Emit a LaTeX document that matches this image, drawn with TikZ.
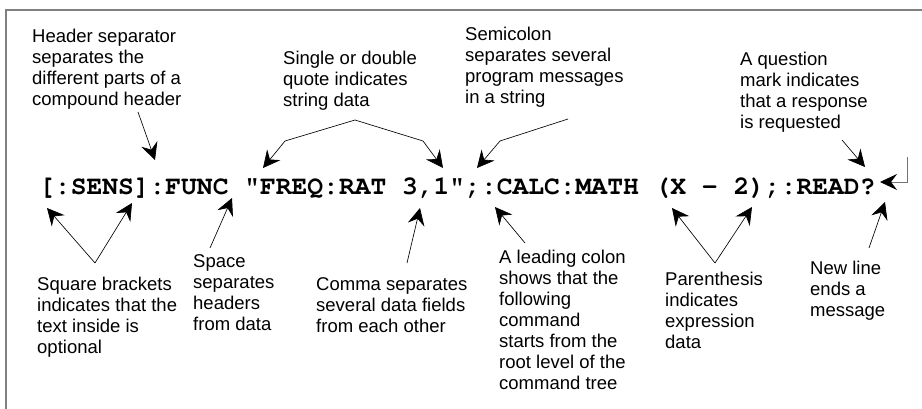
\documentclass[tikz,border=0pt]{standalone}
\usepackage[T1]{fontenc}
\usepackage{fontspec}
\setmainfont{Liberation Sans}
\usepackage{tikz}
\usetikzlibrary{arrows.meta}
\newcommand{\scpi}[1]{{\fontencoding{T1}\fontfamily{pcr}\fontseries{b}\fontsize{26.3}{30}\selectfont #1}}

\begin{document}
\begin{tikzpicture}[x=1pt, y=-1pt,
  note/.style={anchor=north west, inner sep=0pt, align=left,
    font=\fontsize{18.5}{21}\selectfont},
  pointer/.style={-{Stealth[length=17pt,width=17pt,inset=6pt]}, line width=0.65pt}]
\useasboundingbox (0,0) rectangle (922,409);
\draw[black!50, line width=1.3pt] (6,409) |- (922,10);

\node[anchor=base west, inner sep=0pt] (cmd) at (39,195)
  {\scpi{[:SENS]:FUNC "FREQ:RAT 3,1";:CALC:MATH (X - 2);:READ?}};

% notes above the command
\node[note] (hdr) at (32,29) {Header separator\\separates the\\different parts of a\\compound header};
\node[note] (quote) at (283,51) {Single or double\\quote indicates\\string data};
\node[note] (semi) at (465,27) {Semicolon\\separates several\\program messages\\in a string};
\node[note] (query) at (740,52) {A question\\mark indicates\\that a response\\is requested};

% notes below the command
\node[note] (brack) at (37,277) {Square brackets\\indicates that the\\text inside is\\optional};
\node[note] (space) at (193,254) {Space\\separates\\headers\\from data};
\node[note] (comma) at (316,277) {Comma separates\\several data fields\\from each other};
\node[note] (colon) at (499,250) {A leading colon\\shows that the\\following\\command\\starts from the\\root level of the\\command tree};
\node[note] (paren) at (665,272) {Parenthesis\\indicates\\expression\\data};
\node[note] (nl) at (810,261) {New line\\ends a\\message};

\coordinate (hdrtail) at (138,112);  \coordinate (hdrtip) at (155,160);
\coordinate (qapex) at (355,120);
\coordinate (qlbend) at (285,141);   \coordinate (qltip) at (263,168);
\coordinate (qrbend) at (423,141);   \coordinate (qrtip) at (443,168);
\coordinate (semitail) at (568,119); \coordinate (semibend) at (500,141);
\coordinate (semitip) at (477,168);
\coordinate (querytail) at (842,140); \coordinate (querytip) at (865,167);
\coordinate (brapex) at (95,263);
\coordinate (brltip) at (47,208);    \coordinate (brrtip) at (132,203);
\coordinate (sptail) at (210,248);   \coordinate (sptip) at (232,198);
\coordinate (cmtail) at (407,263);   \coordinate (cmtip) at (420,208);
\coordinate (cltail) at (525,243);   \coordinate (cltip) at (495,207);
\coordinate (papex) at (715,263);
\coordinate (pltip) at (672,208);    \coordinate (prtip) at (752,207);
\coordinate (nltail) at (869,248);   \coordinate (nltip) at (885,202);
\coordinate (crtop) at (907,157);    \coordinate (crtip) at (880,182);

\draw[pointer] (hdrtail) -- (hdrtip);
\draw[pointer] (qapex) -- (qlbend) -- (qltip);
\draw[pointer] (qapex) -- (qrbend) -- (qrtip);
\draw[pointer] (semitail) -- (semibend) -- (semitip);
\draw[pointer] (querytail) -- (querytip);
\draw[pointer] (brapex) -- (brltip);
\draw[pointer] (brapex) -- (brrtip);
\draw[pointer] (sptail) -- (sptip);
\draw[pointer] (cmtail) -- (cmtip);
\draw[pointer] (cltail) -- (cltip);
\draw[pointer] (papex) -- (pltip);
\draw[pointer] (papex) -- (prtip);
\draw[pointer] (nltail) -- (nltip);
% new line mark
\draw[black!55, line width=0.8pt, -{Stealth[black, length=17pt, width=16pt, inset=6pt]}]
  (crtop) |- (crtip);
\end{tikzpicture}
\end{document}
